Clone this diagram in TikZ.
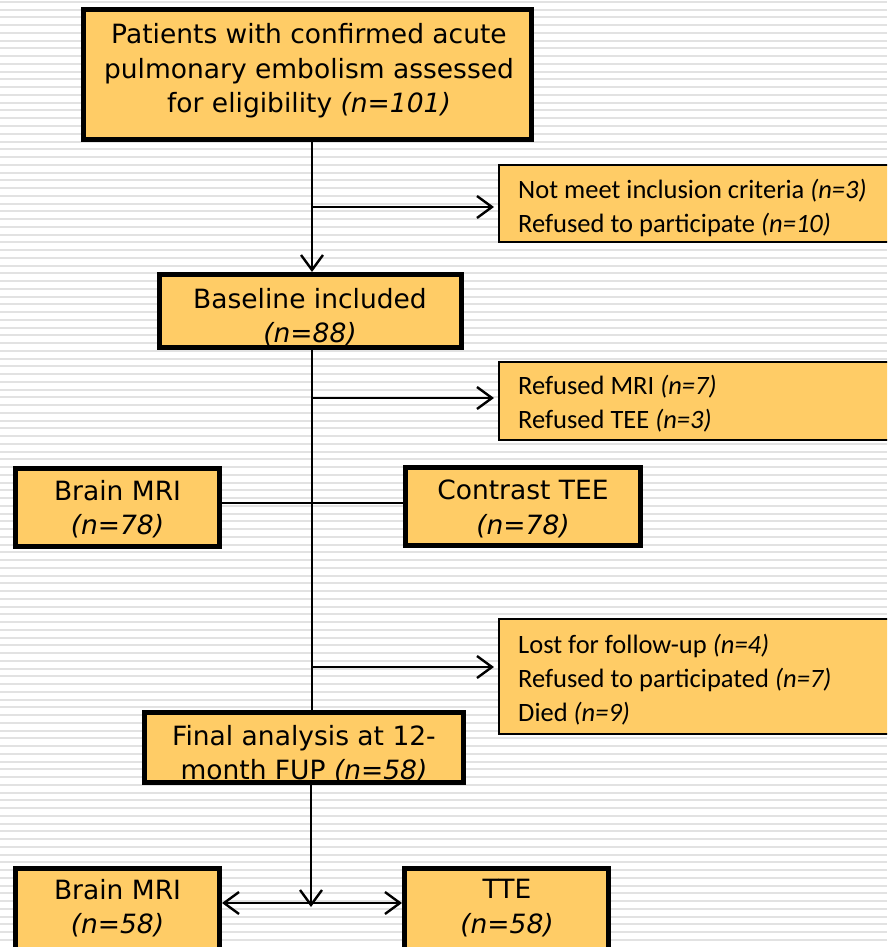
\documentclass[tikz,border=0pt]{standalone}
\usepackage{fontspec}
\newfontfamily\verd{DejaVu Sans}
\newfontfamily\calib{Carlito}
\usetikzlibrary{arrows.meta}
\definecolor{boxfill}{HTML}{FFCC66}
\definecolor{stripecol}{HTML}{E2E2E2}
\begin{document}
\begin{tikzpicture}[x=1pt,y=-1pt,
  mainbox/.style={draw=black,line width=5pt,fill=boxfill,rectangle,inner sep=0pt,anchor=center},
  sidebox/.style={draw=black,line width=1.6pt,fill=boxfill,rectangle,inner sep=0pt,anchor=north west},
  maintext/.style={font=\verd\fontsize{26.5pt}{34.5pt}\selectfont,align=center,inner sep=0pt,anchor=center},
  sidetext/.style={font=\calib\fontsize{26.5pt}{34pt}\selectfont,align=left,inner sep=0pt,anchor=west},
  conn/.style={line width=2.4pt,black},
  thinconn/.style={line width=1.6pt,black},
  tip/.style={-{Straight Barb[length=15pt,width=22pt]}},
  stripe/.style={line width=2pt,stripecol}]
\clip (0,0) rectangle (887,947);
\fill[white] (0,0) rectangle (887,947);
\foreach \i in {0,...,122}{
  \draw[stripe] (0,{2+\i*7.75}) -- (887,{2+\i*7.75});
}
% spine coordinates
\coordinate (s1) at (312,207);
\coordinate (s2) at (312,398);
\coordinate (s3) at (312,503);
\coordinate (s4) at (312,667);
\coordinate (s5) at (311,903);
% boxes
\node[mainbox,minimum width=448pt,minimum height=130pt] (top) at (307.5,74.5) {};
\node[mainbox,minimum width=302pt,minimum height=73pt] (base) at (310.5,311) {};
\node[mainbox,minimum width=204pt,minimum height=78pt] (mri1) at (117.5,507.5) {};
\node[mainbox,minimum width=235pt,minimum height=78pt] (tee) at (523,506.5) {};
\node[mainbox,minimum width=319pt,minimum height=70pt] (final) at (304,747.5) {};
\node[mainbox,minimum width=204pt,minimum height=85pt] (mri2) at (117.5,911) {};
\node[mainbox,minimum width=204pt,minimum height=85pt] (tte) at (506.5,911) {};
\node[sidebox,minimum width=392pt,minimum height=77pt] (ex1) at (498,164) {};
\node[sidebox,minimum width=392pt,minimum height=78pt] (ex2) at (498,361) {};
\node[sidebox,minimum width=392pt,minimum height=115pt] (ex3) at (498,618) {};
% connectors
\draw[conn,tip] (top.south -| s1) -- (base.north -| s1);
\draw[conn,tip] (s1) -- ([xshift=-4pt]ex1.west |- s1);
\draw[conn] (base.south -| s2) -- (final.north -| s2);
\draw[conn,tip] (s2) -- ([xshift=-4pt]ex2.west |- s2);
\draw[conn,tip] (s4) -- ([xshift=-4pt]ex3.west |- s4);
\draw[thinconn] (mri1.east |- s3) -- (tee.west |- s3);
\draw[conn,tip] (final.south -| s5) -- ([yshift=-4pt]s5);
\draw[conn,{Straight Barb[length=15pt,width=22pt]}-{Straight Barb[length=15pt,width=22pt]}] (mri2.east |- s5) -- (tte.west |- s5);
% texts
\node[maintext] (ttop) at (309,71) {Patients with confirmed acute\\pulmonary embolism assessed\\for eligibility \textit{(n=101)}};
\node[maintext] (tbase) at (310,317) {Baseline included\\\textit{(n=88)}};
\node[maintext] (tmri1) at (117.5,509) {Brain MRI\\\textit{(n=78)}};
\node[maintext] (ttee) at (523,509) {Contrast TEE\\\textit{(n=78)}};
\node[maintext] (tfinal) at (304,754) {Final analysis at 12-\\month FUP \textit{(n=58)}};
\node[maintext] (tmri2) at (117.5,908) {Brain MRI\\\textit{(n=58)}};
\node[maintext] (ttte) at (507,908) {TTE\\\textit{(n=58)}};
\node[sidetext] (tex1) at (518,208) {Not meet inclusion criteria \textit{(n=3)}\\Refused to participate \textit{(n=10)}};
\node[sidetext] (tex2) at (518,404) {Refused MRI \textit{(n=7)}\\Refused TEE \textit{(n=3)}};
\node[sidetext] (tex3) at (518,679.5) {Lost for follow-up \textit{(n=4)}\\Refused to participated \textit{(n=7)}\\Died \textit{(n=9)}};
\end{tikzpicture}
\end{document}
